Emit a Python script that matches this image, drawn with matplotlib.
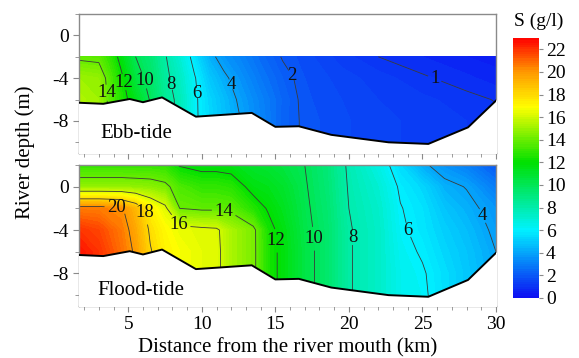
import matplotlib
matplotlib.use("Agg")
import matplotlib.pyplot as plt
import numpy as np
from matplotlib.colors import LinearSegmentedColormap
from matplotlib.ticker import MultipleLocator

plt.rcParams["font.family"] = ["Liberation Serif", "DejaVu Serif"]

# river bed profile (km, m)
bed_x = [1.65, 3.3, 5.1, 6.0, 7.3, 9.6, 13.4, 15.0, 16.6, 18.8, 22.7, 25.4, 28.1, 30.0]
bed_z = [-6.3, -6.4, -5.95, -6.25, -5.8, -7.6, -7.25, -8.55, -8.5, -9.3, -10.0, -10.15, -8.6, -6.1]

# ebb-tide salinity (g/l): columns = stations, rows = depths
ebb_x = [1.65, 3.0, 3.8, 4.5, 5.5, 6.5, 7.5, 8.5, 9.5, 10.5, 11.5, 12.5, 14.0, 15.5, 17.0, 19.5, 22.0, 25.0, 28.0, 30.0]
ebb_depth = [-2, -4, -6, -8, -10.5]
ebb_s = [
    [13.8, 13.7, 12.8, 11.6, 10.0, 9.3, 8.1, 7.0, 5.6, 4.3, 3.6, 3.2, 2.5, 1.95, 1.7, 1.3, 1.0, 0.8, 0.6, 0.5],
    [15.0, 14.8, 13.4, 12.3, 10.5, 9.6, 8.3, 7.4, 6.1, 4.9, 4.2, 3.6, 2.8, 2.2, 1.8, 1.5, 1.3, 1.05, 0.85, 0.7],
    [15.3, 15.0, 13.6, 12.6, 11.3, 9.9, 8.5, 7.7, 6.2, 5.3, 4.6, 3.9, 3.1, 2.35, 1.85, 1.6, 1.4, 1.25, 1.1, 0.98],
    [15.3, 15.0, 13.6, 12.6, 11.3, 10.0, 8.5, 7.8, 6.2, 5.4, 4.7, 4.1, 3.2, 2.3, 1.9, 1.65, 1.45, 1.35, 1.2, 1.1],
    [15.3, 15.0, 13.6, 12.6, 11.3, 10.0, 8.5, 7.8, 6.2, 5.4, 4.7, 4.1, 3.2, 2.3, 1.9, 1.65, 1.45, 1.35, 1.2, 1.1],
]

# flood-tide salinity (g/l)
flood_x = [1.65, 3.0, 4.5, 5.5, 6.5, 7.5, 8.5, 10.0, 11.0, 12.0, 13.5, 14.5, 15.5, 17.0, 18.5, 20.0, 22.0, 23.5, 25.0, 26.5, 28.0, 30.0]
flood_depth = [2, 0, -2, -4, -6, -8, -10.5]
flood_s = [
    [12.9, 12.9, 12.9, 12.9, 12.9, 12.8, 11.9, 11.6, 11.6, 11.5, 11.0, 10.8, 10.5, 10.0, 9.2, 7.8, 6.6, 5.4, 4.2, 3.5, 3.0, 2.0],
    [14.8, 14.8, 14.8, 14.7, 14.6, 14.3, 13.4, 12.9, 12.9, 12.7, 11.6, 11.4, 11.0, 10.1, 9.3, 7.9, 7.0, 5.85, 5.3, 4.3, 3.95, 2.9],
    [20.5, 20.5, 20.2, 19.0, 17.3, 16.3, 14.0, 13.8, 13.8, 13.7, 12.6, 11.9, 11.3, 10.2, 9.4, 8.0, 7.2, 6.05, 5.6, 4.8, 4.3, 3.6],
    [22.0, 21.6, 20.6, 19.5, 17.8, 17.0, 16.5, 16.3, 16.2, 15.2, 14.3, 12.4, 11.6, 10.3, 9.5, 8.1, 7.3, 6.15, 5.7, 5.1, 4.6, 3.8],
    [22.6, 22.0, 20.8, 19.8, 18.1, 17.2, 16.8, 16.4, 16.3, 15.2, 14.3, 12.5, 11.7, 10.4, 9.5, 8.1, 7.3, 6.3, 5.9, 5.3, 4.8, 4.0],
    [22.6, 22.0, 20.8, 19.8, 18.1, 17.2, 16.8, 16.4, 16.3, 15.2, 14.3, 12.5, 11.7, 10.4, 9.5, 8.1, 7.3, 6.4, 6.1, 5.5, 4.9, 4.1],
    [22.6, 22.0, 20.8, 19.8, 18.1, 17.2, 16.8, 16.4, 16.3, 15.2, 14.3, 12.5, 11.7, 10.4, 9.5, 8.1, 7.3, 6.4, 6.2, 5.5, 4.9, 4.1],
]

ebb_levels = [1, 2, 4, 6, 8, 10, 12, 14]
flood_levels = [4, 6, 8, 10, 12, 14, 16, 18, 20]

# approximate label spots (km, m)
ebb_label_pos = [(2.7, -5.4), (4.5, -4.4), (6.2, -4.2), (8.0, -4.6), (9.6, -5.4),
                 (11.9, -4.6), (15.9, -3.8), (25.8, -4.1)]
flood_label_pos = [(4.2, -2.6), (6.2, -2.4), (8.1, -3.8), (11.5, -2.4), (14.9, -5.0),
                   (17.6, -4.8), (20.2, -4.7), (24.0, -4.0), (28.9, -2.8)]

# Surfer-style rainbow, 0..23 g/l
cmap = LinearSegmentedColormap.from_list(
    "surfer_rainbow",
    [(0.0, (0.05, 0.05, 0.95)),
     (6.0 / 23, (0.0, 0.95, 1.0)),
     (12.0 / 23, (0.0, 0.88, 0.0)),
     (16.9 / 23, (1.0, 1.0, 0.0)),
     (20.0 / 23, (1.0, 0.6, 0.0)),
     (1.0, (1.0, 0.0, 0.0))],
)
fill_levels = np.linspace(0, 23, 116)

fig = plt.figure(figsize=(5.79, 3.58), dpi=100)
ax_ebb = fig.add_axes([0.1364, 0.5726, 0.7202, 0.3883])
ax_flood = fig.add_axes([0.1364, 0.1453, 0.7202, 0.3939])
cax = fig.add_axes([0.886, 0.1676, 0.0449, 0.7263])

spine_grey = "#8a8a8a"


def draw_panel(ax, xs, depths, sal, levels, label_pos, name, name_pos):
    sal = np.array(sal)
    cf = ax.contourf(xs, depths, sal, levels=fill_levels, cmap=cmap, vmin=0, vmax=23)
    cs = ax.contour(xs, depths, sal, levels=levels, colors="#3a3a3a", linewidths=0.6)
    labels = ax.clabel(cs, levels, fmt="%d", fontsize=13.5, inline=True, inline_spacing=3,
                       manual=label_pos, colors="#111111")
    for t in labels:
        t.set_rotation(0)
    # mask everything under the bed
    ax.fill_between(bed_x, bed_z, -12, color="white", zorder=3)
    ax.plot(bed_x, bed_z, color="black", linewidth=1.4, zorder=4)
    ax.text(name_pos[0], name_pos[1], name, fontsize=15, va="center", ha="left", zorder=5)

    ax.set_xlim(1.65, 30)
    ax.set_ylim(-11, 2)
    ax.set_yticks([0, -4, -8])
    ax.set_yticklabels(["0", "-4", "-8"])
    ax.yaxis.set_minor_locator(MultipleLocator(2))
    ax.xaxis.set_major_locator(MultipleLocator(5))
    ax.xaxis.set_minor_locator(MultipleLocator(1))
    ax.tick_params(which="both", direction="out", colors=spine_grey, labelcolor="black",
                   labelsize=14, top=False, right=False)
    ax.tick_params(which="major", length=4)
    ax.tick_params(which="minor", length=3)
    for sp in ax.spines.values():
        sp.set_color(spine_grey)
        sp.set_linewidth(1.0)
    return cf


cf = draw_panel(ax_ebb, ebb_x, ebb_depth, ebb_s, ebb_levels, ebb_label_pos,
                "Ebb-tide", (3.1, -9.2))
ax_ebb.tick_params(labelbottom=False)
draw_panel(ax_flood, flood_x, flood_depth, flood_s, flood_levels, flood_label_pos,
           "Flood-tide", (2.9, -9.6))

cb = fig.colorbar(cf, cax=cax, ticks=range(0, 23, 2))
cb.outline.set_visible(False)
cb.ax.tick_params(colors=spine_grey, labelcolor="black", labelsize=14, length=3, pad=2)
cb.ax.set_ylim(0, 23)
fig.text(0.93, 0.94, "S (g/l)", fontsize=14, ha="center", va="center")

fig.text(0.043, 0.575, "River depth (m)", fontsize=15, rotation=90, ha="center", va="center")
fig.text(0.496, 0.028, "Distance from the river mouth (km)", fontsize=15, ha="center",
         va="center")

fig.savefig("out.png", dpi=100)
